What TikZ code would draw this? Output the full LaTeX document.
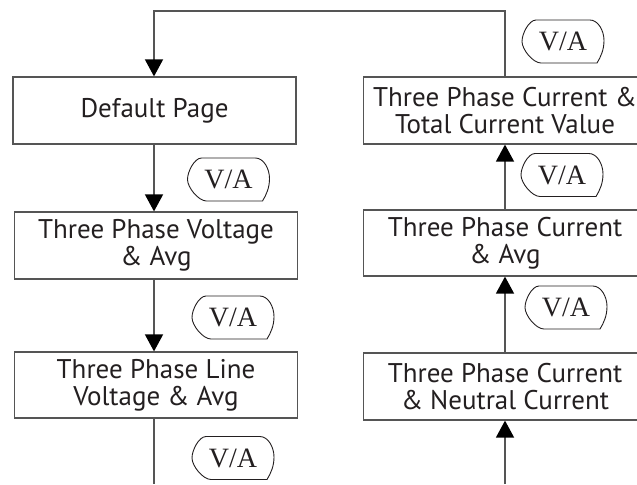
\documentclass[tikz,border=0pt]{standalone}
\usepackage{fontspec}
\setmainfont{Liberation Serif}
\newfontfamily\boxfont{PT Sans}
\usetikzlibrary{arrows.meta,positioning,calc}
\definecolor{ink}{HTML}{231F20}
\definecolor{wire}{HTML}{555555}
\tikzset{
  pagebox/.style={draw=wire,line width=.6pt,minimum width=141.5pt,align=center,text=ink,
    font=\boxfont\fontsize{13.5}{13.5}\selectfont},
  vatag/.style={text=ink,font=\fontsize{14}{14}\selectfont},
  vaedge/.style={draw=ink,line width=.45pt},
  ar/.style={-{Triangle[length=8.5pt,width=9pt,color=black]},draw=wire,line width=.75pt},
  ln/.style={draw=wire,line width=.75pt},
}
\begin{document}
\begin{tikzpicture}[x=.5pt,y=-.5pt]
  \clip (0,0) rectangle (637,484);
  % left column
  \node[pagebox,minimum height=33.5pt] (def) at (154.5,110.5) {Default Page};
  \node[pagebox,minimum height=33.5pt] (volt) at (156,245.5) {Three Phase Voltage\\\& Avg};
  \node[pagebox,minimum height=33pt] (line) at (156,385) {Three Phase Line\\Voltage \& Avg};
  % right column
  \node[pagebox,minimum height=33.5pt] (tot) at (505,110.5) {Three Phase Current \&\\Total Current Value};
  \node[pagebox,minimum height=33pt] (cavg) at (505,243) {Three Phase Current\\\& Avg};
  \node[pagebox,minimum height=33.5pt] (neut) at (505,386.5) {Three Phase Current\\\& Neutral Current};
  \coordinate (lend) at (154,484);
  \coordinate (rend) at (505,484);
  \coordinate (tl) at (154,11);
  \coordinate (tr) at (505,11);
  % connectors
  \draw[ar] (tot.north) -- (tr) -- (tl) -- (def.north -| tl);
  \draw[ar] (def.south -| tl) -- (volt.north -| tl);
  \draw[ar] (volt.south -| tl) -- (line.north -| tl);
  \draw[ln] (line.south -| tl) -- (lend);
  \draw[ar] (rend) -- (neut.south);
  \draw[ar] (neut.north) -- (cavg.south);
  \draw[ar] (cavg.north) -- (tot.south);
  % V/A tags
  \foreach \n/\x/\y in {a/228.5/179.5,b/233/317.5,c/233/458,d/563/41.5,e/562/175,f/566/307.5} {
    \node[vatag] (va\n) at (\x,\y) {V/A};
    \draw[vaedge] ($(va\n)+(-27,-21.5)$) -- ($(va\n)+(27,-21.5)$)
      .. controls ($(va\n)+(35,-21.5)$) and ($(va\n)+(41,-11)$) .. ($(va\n)+(41,-1)$)
      .. controls ($(va\n)+(41,8)$) and ($(va\n)+(38,15)$) .. ($(va\n)+(34,21.5)$)
      -- ($(va\n)+(-22,21.5)$)
      .. controls ($(va\n)+(-30,21.5)$) and ($(va\n)+(-41,8)$) .. ($(va\n)+(-41,0)$)
      .. controls ($(va\n)+(-41,-8)$) and ($(va\n)+(-34,-21.5)$) .. cycle;
  }
\end{tikzpicture}
\end{document}
